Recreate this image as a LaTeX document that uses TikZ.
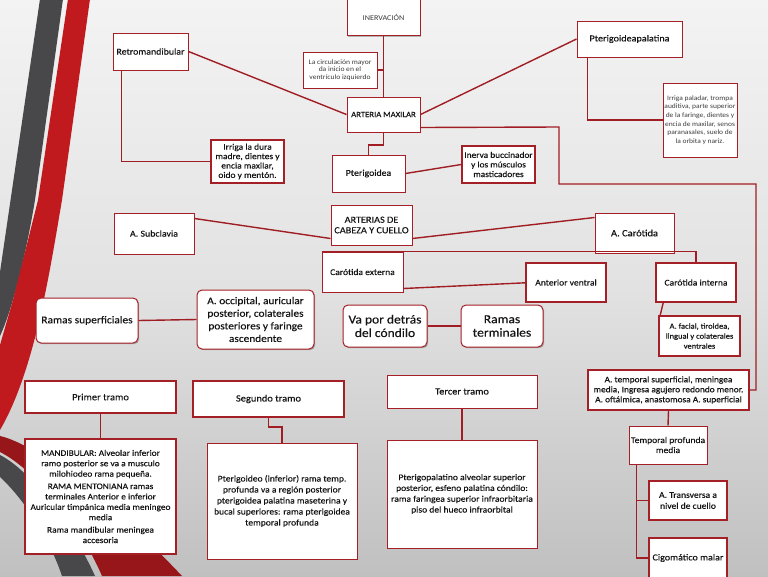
\documentclass[tikz,border=0pt]{standalone}
\usepackage{fontspec}
\setmainfont{Carlito}[FakeStretch=1.1, FakeBold=0.3]
\newfontfamily\lightf{Carlito}[FakeStretch=1.1]
\usetikzlibrary{shadows,calc}
\definecolor{linered}{RGB}{160,30,35}
\definecolor{boxred}{RGB}{165,32,38}
\definecolor{stripered}{RGB}{192,26,30}
\definecolor{swred}{RGB}{150,22,26}
\definecolor{stripegray}{RGB}{72,72,75}
\definecolor{bgtop}{RGB}{243,243,243}
\definecolor{bgmid}{RGB}{226,226,226}
\definecolor{bgbot}{RGB}{192,192,192}
\definecolor{txt}{RGB}{20,20,20}
\definecolor{lighttxt}{RGB}{60,60,60}
\newcommand\fsz[2]{\fontsize{#1}{#2}\selectfont}
\begin{document}
\begin{tikzpicture}[x=1pt,y=-1pt,
  box/.style={draw=boxred, line width=1pt, fill=white, align=center, inner sep=1pt, text=txt,
    drop shadow={opacity=0.25, shadow xshift=1.2pt, shadow yshift=-1.2pt, fill=black}},
  thick box/.style={box, line width=1.6pt},
  rbox/.style={box, rounded corners=5pt},
  light/.style={text=lighttxt},
  link/.style={draw=linered, line width=1.4pt},
]
% background
\useasboundingbox (0,0) rectangle (768,576);
\shade[top color=bgtop, bottom color=bgbot, middle color=bgmid] (0,0) rectangle (768,576);
% decorative stripes
\fill[stripegray] (40,-1) -- (63,-1) -- (35,200) .. controls (25,260) and (12,310) .. (0,336) -- (0,272) -- cycle;
\fill[stripered] (68,-1) -- (90,-1) -- (62,200) .. controls (50,270) and (35,370) .. (0,430) -- (0,345) -- (13,300) -- (38,200) -- cycle;
\fill[swred] (0,436) .. controls (40,445) and (120,510) .. (182,576) -- (102,576) .. controls (78,520) and (32,468) .. (0,452) -- cycle;
\fill[stripegray] (0,455) .. controls (30,470) and (72,525) .. (95,576) -- (62,576) .. controls (50,540) and (25,500) .. (0,477) -- cycle;

% nodes
\node[box, light, minimum width=73pt, minimum height=37pt, font=\lightf\fsz{7.4}{8.5}] (iner) at (383.5,17) {INERVACIÓN};
\node[box, light, minimum width=74pt, minimum height=36pt, font=\lightf\fsz{6.9}{7.8}] (circ) at (340,70) {La circulación mayor\\da inicio en el\\ventrículo izquierdo};
\node[box, minimum width=73pt, minimum height=35pt, font=\fsz{7.9}{9}] (amax) at (383.5,114.5) {ARTERIA MAXILAR};
\node[box, minimum width=73pt, minimum height=37pt, font=\fsz{8.9}{10}] (pter) at (368.5,173.5) {Pterigoidea};
\node[thick box, minimum width=73pt, minimum height=37pt, font=\fsz{8.5}{9.6}] (inerva) at (498.5,164.5) {Inerva buccinador\\y los músculos\\masticadores};
\node[box, minimum width=75pt, minimum height=37pt, font=\fsz{9}{10}] (retro) at (150.5,51.5) {Retromandibular};
\node[thick box, minimum width=73pt, minimum height=43pt, font=\fsz{8.6}{9.4}] (dura) at (247.5,161.5) {Irriga la dura\\madre, dientes y\\encia maxilar,\\oido y mentón.};
\node[box, minimum width=105pt, minimum height=36pt, font=\fsz{9.2}{10}] (ppal) at (629.5,39) {Pterigoideapalatina};
\node[box, light, minimum width=74pt, minimum height=74pt, font=\lightf\fsz{6.8}{8.7}] (paladar) at (700,120) {Irriga paladar, trompa\\auditiva, parte superior\\de la faringe, dientes y\\encia de maxilar, senos\\paranasales, suelo de\\la orbita y nariz.};
\node[box, minimum width=81pt, minimum height=40pt, font=\fsz{9.3}{10.5}] (art) at (371.5,225) {ARTERIAS DE\\CABEZA Y CUELLO};
\node[box, minimum width=80pt, minimum height=41pt, font=\fsz{9}{10}] (subcl) at (154,233.5) {A. Subclavia};
\node[box, minimum width=79pt, minimum height=40pt, font=\fsz{9.5}{10}] (carot) at (634.5,233) {A. Carótida};
\node[box, minimum width=81pt, minimum height=40pt, font=\fsz{8.7}{10}] (cext) at (362.5,272) {Carótida externa};
\node[thick box, minimum width=80pt, minimum height=39pt, font=\fsz{8.7}{10}] (antv) at (566,282.5) {Anterior ventral};
\node[thick box, minimum width=80pt, minimum height=39pt, font=\fsz{8.7}{10}] (cint) at (696,282.5) {Carótida interna};
\node[thick box, minimum width=81pt, minimum height=40pt, font=\fsz{7.7}{10}] (facial) at (699.5,336) {A. facial, tiroidea,\\lingual y colaterales\\ventrales};
\node[rbox, minimum width=84pt, minimum height=42pt, font=\fsz{12.3}{13.5}] (vapor) at (385,326) {Va por detrás\\del cóndilo};
\node[rbox, minimum width=82pt, minimum height=42pt, font=\fsz{12.3}{13.5}] (ramt) at (502,326) {Ramas\\terminales};
\node[rbox, minimum width=102pt, minimum height=45pt, font=\fsz{10.4}{12}] (ramsup) at (87,320.5) {Ramas superficiales};
\node[rbox, minimum width=117pt, minimum height=59pt, font=\fsz{10.3}{12.6}] (occ) at (255.5,319.5) {A. occipital, auricular\\posterior, colaterales\\posteriores y faringe\\ascendente};
\node[thick box, minimum width=151pt, minimum height=32pt, font=\fsz{9.5}{10}] (primer) at (100.5,397) {Primer tramo};
\node[thick box, minimum width=151pt, minimum height=115pt, font=\fsz{8.5}{10.4}] (mand) at (100.5,496.5) {MANDIBULAR: Alveolar inferior\\ramo posterior se va a musculo\\milohiodeo rama pequeña.\\[2pt]RAMA MENTONIANA ramas\\terminales Anterior e inferior\\Auricular timpánica media meningeo\\media\\[2pt]Rama mandibular meningea\\accesoria};
\node[thick box, minimum width=151pt, minimum height=36pt, font=\fsz{9.5}{10}] (segundo) at (268.5,399) {Segundo tramo};
\node[box, minimum width=150pt, minimum height=116pt, font=\fsz{8.7}{11}] (pinf) at (282,501) {Pterigoideo (inferior) rama temp.\\profunda va a región posterior\\pterigoidea palatina maseterina y\\bucal superiores: rama pterigoidea\\temporal profunda};
\node[box, minimum width=150pt, minimum height=33pt, font=\fsz{9.4}{10}] (tercer) at (462,391.5) {Tercer tramo};
\node[box, minimum width=150pt, minimum height=108pt, font=\fsz{8.7}{10.8}] (ptpal) at (462,494) {Pterigopalatino alveolar superior\\posterior, esfeno palatina cóndilo:\\rama faringea superior infraorbitaria\\piso del hueco infraorbital};
\node[thick box, minimum width=161pt, minimum height=40pt, font=\fsz{8.5}{10}] (tsup) at (668.5,390) {A. temporal superficial, meningea\\media, Ingresa agujero redondo menor.\\A. oftálmica, anastomosa A. superficial};
\node[box, minimum width=78pt, minimum height=38pt, font=\fsz{8.7}{10}] (tprof) at (668,445) {Temporal profunda\\media};
\node[thick box, minimum width=78pt, minimum height=39pt, font=\fsz{8.7}{11}] (transv) at (688,500.5) {A. Transversa a\\nivel de cuello};
\node[thick box, minimum width=78pt, minimum height=40pt, font=\fsz{9.1}{10}] (cigo) at (688,558) {Cigomático malar};

% connectors
\draw[link] (iner.south) -- (amax.north);
\draw[link] (circ.east) -- (circ.east -| amax.north);
\draw[link] (amax.south) -- (amax.south |- 0,145) -| (pter.north);
\draw[link] (pter.east) -- (inerva.west);
\draw[link] (retro.east) -- (amax.west);
\draw[link] ([xshift=9pt]retro.south west) |- (dura.west);
\draw[link] (amax.east) -- (ppal.west);
\draw[link] ([xshift=11pt]ppal.south west) |- (paladar.west);
\draw[link] ([yshift=5pt]amax.south east) -- (559,127) -- (559,184) -- (756,184) |- (tsup.east);
\draw[link] ([yshift=-6pt]subcl.north east) -- ([yshift=7pt]art.south west);
\draw[link] ([yshift=7pt]art.south east) -- ([yshift=-5pt]carot.north west);
\draw[link] (cext.north west) -| (cint.north);
\draw[link] ([yshift=4pt]cext.south east) -- ([yshift=20pt]antv.south west);
\draw[link] ([xshift=8pt]cint.south west) -- ([xshift=2pt]facial.north west);
\draw[link] (vapor.east) -- (ramt.west);
\draw[link] (ramsup.east) -- (occ.west);
\draw[link] (primer.south) -- (mand.north);
\draw[link] (segundo.south) -- (segundo.south |- 0,427) -| (pinf.north);
\draw[link] (tercer.south) -- (ptpal.north);
\draw[link] (tsup.south) -- (tprof.north);
\draw[link] ([xshift=8pt]tprof.south west) |- (cigo.west);
\draw[link] ([xshift=8pt]tprof.south west) |- (transv.west);
\end{tikzpicture}
\end{document}
